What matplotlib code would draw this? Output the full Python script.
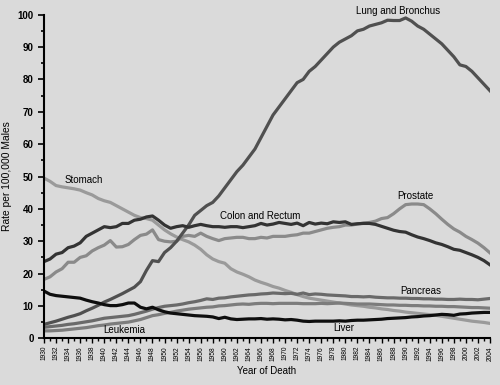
# Age-adjusted cancer death rates, males, 1930-2004
import matplotlib.pyplot as plt
from matplotlib.ticker import MultipleLocator

years = list(range(1930, 2005))

lung = [4.3, 4.8, 5.3, 5.9, 6.5, 7.0, 7.6, 8.5, 9.3, 10.2,
        11.2, 12.0, 12.9, 13.8, 14.8, 15.8, 17.5, 21.0, 24.0, 23.7,
        26.5, 28.0, 30.0, 32.5, 35.0, 38.0, 39.5, 41.0, 42.0, 44.0,
        46.5, 49.0, 51.5, 53.5, 56.0, 58.5, 62.0, 65.5, 69.0, 71.5,
        74.0, 76.5, 79.0, 80.0, 82.5, 84.0, 86.0, 88.0, 90.0, 91.5,
        92.5, 93.5, 95.0, 95.5, 96.5, 97.0, 97.5, 98.3, 98.2, 98.2,
        99.0, 98.0, 96.5, 95.5, 94.0, 92.5, 91.0, 89.0, 87.0, 84.5,
        84.0, 82.5, 80.5, 78.5, 76.5]

colon = [23.7, 24.5, 26.0, 26.5, 28.0, 28.5, 29.5, 31.5, 32.5, 33.5,
         34.5, 34.2, 34.5, 35.5, 35.5, 36.5, 36.8, 37.5, 37.8, 36.5,
         35.0, 34.0, 34.5, 34.8, 34.3, 34.8, 35.2, 34.8, 34.5, 34.5,
         34.3, 34.5, 34.5, 34.2, 34.5, 34.8, 35.5, 35.0, 35.3, 35.8,
         35.5, 35.2, 35.6, 34.8, 35.8, 35.3, 35.6, 35.4, 36.0, 35.8,
         36.0, 35.2, 35.4, 35.5, 35.5, 35.2, 34.6, 34.0, 33.4, 33.0,
         32.8, 32.0, 31.3, 30.8, 30.2, 29.5, 29.0, 28.3, 27.5, 27.2,
         26.5, 25.8, 25.0, 24.0, 22.7]

prostate = [18.2, 19.0, 20.5, 21.5, 23.5, 23.5, 25.0, 25.5, 27.0, 28.0,
            28.8, 30.2, 28.2, 28.3, 29.0, 30.5, 31.8, 32.2, 33.5, 30.5,
            30.0, 29.8, 30.0, 31.5, 31.8, 31.5, 32.5, 31.5, 30.8, 30.2,
            30.8, 31.0, 31.2, 31.2, 30.8, 30.8, 31.2, 31.0, 31.5, 31.5,
            31.5, 31.8, 32.0, 32.5, 32.5, 33.0, 33.5, 34.0, 34.3, 34.5,
            35.0, 35.0, 35.3, 35.6, 35.8, 36.2, 37.0, 37.3, 38.5, 40.0,
            41.3, 41.5, 41.5, 41.3, 40.0, 38.5, 36.8, 35.2, 33.8, 32.8,
            31.5, 30.5, 29.4, 28.0, 26.4]

stomach = [49.5, 48.5, 47.2, 46.8, 46.5, 46.2, 45.8, 45.0, 44.3, 43.2,
           42.5, 42.0, 41.0, 40.0, 39.0, 38.0, 37.3, 37.0, 36.5, 35.0,
           33.5, 32.3, 31.3, 30.5, 29.8, 28.8, 27.5, 25.8, 24.5, 23.7,
           23.2, 21.5, 20.5, 19.8, 19.0, 18.0, 17.3, 16.7, 16.0, 15.5,
           14.8, 14.2, 13.5, 12.9, 12.4, 12.1, 11.8, 11.5, 11.2, 10.9,
           10.6, 10.3, 10.1, 9.9, 9.6, 9.4, 9.1, 8.9, 8.6, 8.4,
           8.1, 7.9, 7.7, 7.5, 7.3, 7.1, 6.8, 6.5, 6.2, 5.9,
           5.6, 5.3, 5.1, 4.9, 4.6]

liver = [14.6, 13.6, 13.2, 13.0, 12.8, 12.6, 12.4, 11.8, 11.3, 10.9,
         10.4, 10.1, 10.1, 10.4, 10.9, 10.9, 9.6, 9.1, 9.6, 8.8,
         8.2, 7.8, 7.6, 7.4, 7.2, 7.0, 6.9, 6.8, 6.6, 6.1,
         6.5, 6.0, 5.8, 5.9, 6.0, 6.0, 6.1, 5.9, 6.0, 5.9,
         5.7, 5.8, 5.6, 5.3, 5.2, 5.3, 5.3, 5.3, 5.3, 5.4,
         5.3, 5.5, 5.6, 5.6, 5.7, 5.8, 5.9, 6.1, 6.2, 6.3,
         6.4, 6.6, 6.7, 6.9, 7.0, 7.2, 7.4, 7.3, 7.1, 7.5,
         7.6, 7.8, 7.9, 8.0, 8.0]

pancreas = [3.4, 3.6, 3.8, 4.0, 4.3, 4.5, 4.8, 5.1, 5.4, 5.8,
            6.2, 6.4, 6.6, 6.8, 7.0, 7.4, 7.9, 8.4, 9.0, 9.5,
            9.9, 10.1, 10.3, 10.6, 11.0, 11.3, 11.7, 12.2, 12.0, 12.4,
            12.5, 12.8, 13.0, 13.2, 13.4, 13.5, 13.7, 13.8, 14.0, 13.9,
            13.8, 13.9, 13.6, 14.0, 13.5, 13.7, 13.6, 13.4, 13.3, 13.2,
            13.1, 12.9, 12.9, 12.8, 12.9, 12.7, 12.6, 12.5, 12.5, 12.4,
            12.4, 12.3, 12.3, 12.2, 12.2, 12.1, 12.1, 12.0, 12.0, 12.1,
            12.0, 12.0, 11.9, 12.1, 12.3]

leukemia = [2.3, 2.3, 2.4, 2.5, 2.7, 2.9, 3.1, 3.3, 3.6, 3.9,
            4.1, 4.4, 4.6, 4.8, 5.0, 5.4, 5.8, 6.4, 7.0, 7.3,
            7.7, 8.0, 8.4, 8.7, 9.0, 9.2, 9.4, 9.6, 9.7, 10.0,
            10.1, 10.3, 10.5, 10.6, 10.5, 10.7, 10.8, 10.8, 10.7, 10.8,
            10.8, 10.8, 10.8, 10.7, 10.7, 10.7, 10.8, 10.7, 10.8, 10.9,
            10.8, 10.7, 10.6, 10.6, 10.6, 10.5, 10.4, 10.3, 10.3, 10.2,
            10.2, 10.1, 10.1, 10.0, 10.0, 9.9, 9.9, 9.8, 9.8, 9.7,
            9.6, 9.5, 9.5, 9.4, 9.3]

plt.rcParams['font.family'] = ['Liberation Sans', 'DejaVu Sans']
bg = '#dadada'

fig = plt.figure(figsize=(5, 3.85), dpi=100, facecolor=bg)
ax = fig.add_axes([0.088, 0.1213, 0.892, 0.8405], facecolor=bg)

lw = 2.3
ax.plot(years, stomach, color='#9a9a9a', lw=lw)
ax.plot(years, leukemia, color='#7c7c7c', lw=lw)
ax.plot(years, pancreas, color='#6a6a6a', lw=lw)
ax.plot(years, prostate, color='#8a8a8a', lw=lw)
ax.plot(years, lung, color='#505050', lw=lw)
ax.plot(years, colon, color='#333333', lw=lw)
ax.plot(years, liver, color='#0e0e0e', lw=lw)

# labels next to the lines
lab = dict(fontsize=7, ha='center', va='center')
ax.text(1988.7, 101.3, 'Lung and Bronchus', clip_on=False, **lab)
ax.text(1936.6, 49.0, 'Stomach', **lab)
ax.text(1965.8, 37.9, 'Colon and Rectum', **lab)
ax.text(1991.7, 44.1, 'Prostate', **lab)
ax.text(1992.5, 14.7, 'Pancreas', **lab)
ax.text(1979.8, 3.3, 'Liver', **lab)
ax.text(1943.3, 2.6, 'Leukemia', **lab)

ax.set_xlim(1930, 2004)
ax.set_ylim(0, 100)
ax.spines['top'].set_visible(False)
ax.spines['right'].set_visible(False)
ax.spines['left'].set_linewidth(1.5)
ax.spines['bottom'].set_linewidth(1.5)

ax.set_xticks(range(1930, 2005, 2))
ax.set_xticklabels([str(y) for y in range(1930, 2005, 2)], rotation=90,
                   fontsize=4.8)
ax.xaxis.set_minor_locator(MultipleLocator(1))
ax.yaxis.set_major_locator(MultipleLocator(10))
ax.yaxis.set_minor_locator(MultipleLocator(5))
ax.tick_params(axis='y', which='major', labelsize=7, length=4, width=1.2)
ax.tick_params(axis='y', which='minor', length=2.5, width=1.2)
ax.tick_params(axis='x', which='major', length=3.5, width=1, pad=2)
ax.tick_params(axis='x', which='minor', length=2, width=1)
for t in ax.get_yticklabels():
    t.set_fontweight('bold')

ax.set_xlabel('Year of Death', fontsize=7)
ax.set_ylabel('Rate per 100,000 Males', fontsize=7.4, labelpad=4)

plt.savefig('out.png', dpi=100, facecolor=bg)
